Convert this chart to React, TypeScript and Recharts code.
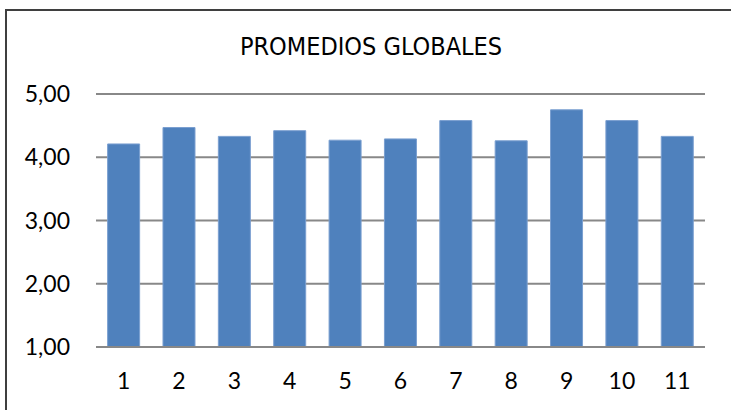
import { BarChart, Bar, XAxis, YAxis, CartesianGrid } from "recharts";

const CATEGORIES = ["1", "2", "3", "4", "5", "6", "7", "8", "9", "10", "11"];
const PROMEDIOS = [4.21, 4.47, 4.33, 4.42, 4.27, 4.29, 4.58, 4.26, 4.75, 4.58, 4.33];
const Y_TICKS = [1, 2, 3, 4, 5];

const TITLE = "PROMEDIOS GLOBALES";
const BAR_COLOR = "#4f81bd";
const GRID_COLOR = "#888888";
const LABEL_FONT = "Lato, 'Open Sans', sans-serif";

const data = CATEGORIES.map((name, i) => ({ name, value: PROMEDIOS[i] }));

const fmt = (v: number) => v.toFixed(2).replace(".", ",");

export default function App() {
  return (
    <div
      style={{
        position: "fixed",
        left: 0,
        top: 0,
        width: 731,
        height: 410,
        overflow: "hidden",
        background: "#fff",
      }}
    >
      {/* outer frame, cut off on the right and bottom */}
      <div
        style={{
          position: "absolute",
          left: 5,
          top: 9,
          width: 800,
          height: 500,
          borderLeft: "2px solid #3f3f3f",
          borderTop: "2px solid #3f3f3f",
        }}
      />
      <div
        style={{
          position: "absolute",
          left: 0,
          top: 34,
          width: 742,
          textAlign: "center",
          fontFamily: "'Liberation Sans Narrow', 'DejaVu Sans Condensed', sans-serif",
          fontStretch: "condensed",
          fontSize: 25,
          lineHeight: "26px",
          color: "#000",
        }}
      >
        {TITLE}
      </div>
      <div style={{ position: "absolute", left: 0, top: 0 }}>
        <BarChart
          width={731}
          height={410}
          data={data}
          margin={{ top: 94, right: 26, bottom: 0, left: 0 }}
          barCategoryGap="21%"
        >
          <CartesianGrid vertical={false} stroke={GRID_COLOR} strokeWidth={2} />
          <XAxis
            dataKey="name"
            height={63}
            tickLine={false}
            tickSize={0}
            tickMargin={26}
            axisLine={{ stroke: GRID_COLOR, strokeWidth: 2 }}
            tick={{ fontSize: 23, fill: "#000", fontFamily: LABEL_FONT }}
          />
          <YAxis
            domain={[1, 5]}
            ticks={Y_TICKS}
            width={96}
            tickLine={false}
            tickSize={0}
            tickMargin={26}
            axisLine={false}
            tickFormatter={fmt}
            tick={{ fontSize: 23, fill: "#000", fontFamily: LABEL_FONT }}
          />
          <Bar
            dataKey="value"
            fill={BAR_COLOR}
            stroke="#7a9fd0"
            strokeWidth={1}
            isAnimationActive={false}
          />
        </BarChart>
      </div>
    </div>
  );
}
